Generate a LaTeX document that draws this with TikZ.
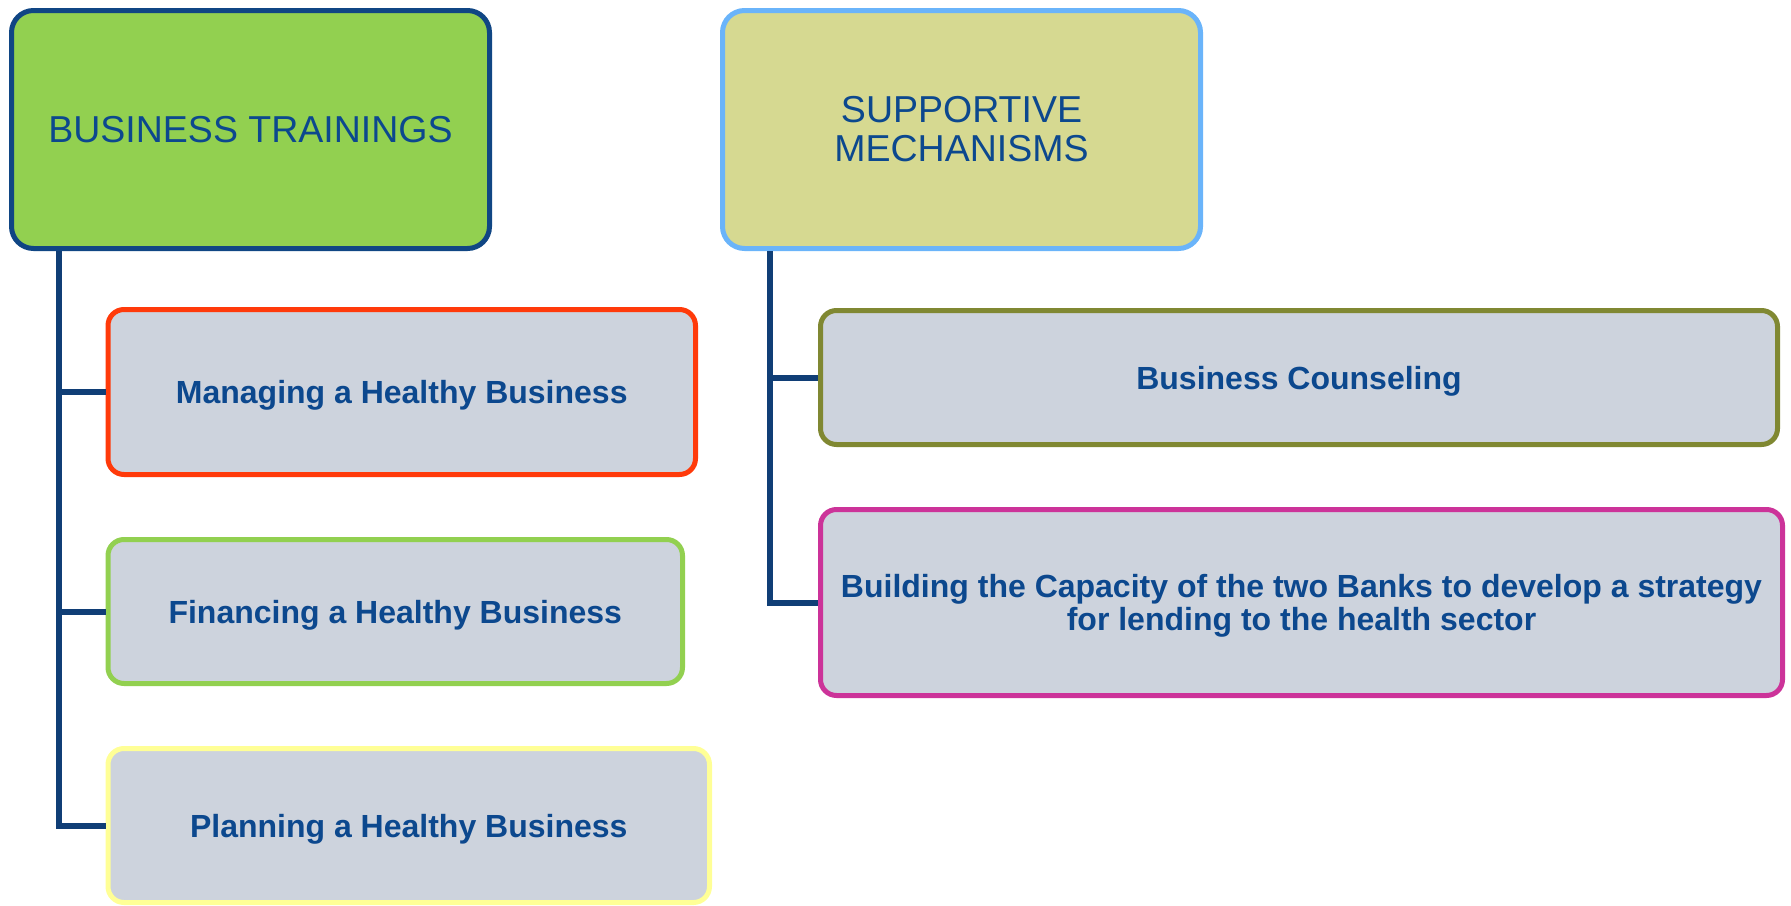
\documentclass[tikz,border=0pt]{standalone}
\usepackage{fontspec}
\setmainfont{Liberation Sans}
\definecolor{txtblue}{RGB}{12,72,142}
\definecolor{connblue}{RGB}{16,62,118}
\definecolor{btgreen}{RGB}{146,208,80}
\definecolor{btborder}{RGB}{16,70,132}
\definecolor{smfill}{RGB}{214,217,145}
\definecolor{smborder}{RGB}{106,180,250}
\definecolor{itemfill}{RGB}{205,211,221}
\definecolor{redborder}{RGB}{255,58,10}
\definecolor{greenborder}{RGB}{146,208,80}
\definecolor{yellowborder}{RGB}{255,255,150}
\definecolor{oliveborder}{RGB}{128,136,50}
\definecolor{pinkborder}{RGB}{204,51,153}
\begin{document}
\begin{tikzpicture}[x=1pt,y=-1pt,
  head/.style={draw, rounded corners=22pt, line width=5pt,
    minimum width=478pt, minimum height=238pt, text=txtblue,
    font=\fontsize{37.5}{39}\selectfont, align=center, inner sep=0pt},
  item/.style={draw, fill=itemfill, rounded corners=16pt, line width=5pt,
    text=txtblue, font=\bfseries\fontsize{32}{33}\selectfont,
    align=center, inner sep=0pt, text depth=0pt},
  conn/.style={draw=connblue, line width=6pt}]
\useasboundingbox (0,0) rectangle (1791,905);

% top-level headings
\node[head, fill=btgreen, draw=btborder] (bt) at (250.5,129.5) {BUSINESS TRAININGS};
\node[head, fill=smfill, draw=smborder] (sm) at (961.5,129.5) {SUPPORTIVE\\MECHANISMS};

% business training items
\node[item, draw=redborder, minimum width=587.5pt, minimum height=165pt]
  (mg) at (401.75,392) {Managing a Healthy Business};
\node[item, draw=greenborder, minimum width=574.5pt, minimum height=144pt]
  (fn) at (395.25,611.5) {Financing a Healthy Business};
\node[item, draw=yellowborder, minimum width=601.5pt, minimum height=154pt]
  (pl) at (408.75,825.5) {Planning a Healthy Business};

% supportive mechanism items
\node[item, draw=oliveborder, minimum width=957pt, minimum height=134pt]
  (bc) at (1299,377.5) {Business Counseling};
\node[item, draw=pinkborder, minimum width=962pt, minimum height=186pt]
  (cb) at (1301.5,602.5) {Building the Capacity of the two Banks to develop a strategy\\for lending to the health sector};

% tree connectors
\coordinate (lt) at ([xshift=50pt]bt.south west);
\coordinate (rt) at ([xshift=50pt]sm.south west);
\draw[conn] (lt) |- (pl.west);
\draw[conn] (lt |- mg.west) -- (mg.west);
\draw[conn] (lt |- fn.west) -- (fn.west);
\draw[conn] (rt) |- (cb.west);
\draw[conn] (rt |- bc.west) -- (bc.west);
\end{tikzpicture}
\end{document}
